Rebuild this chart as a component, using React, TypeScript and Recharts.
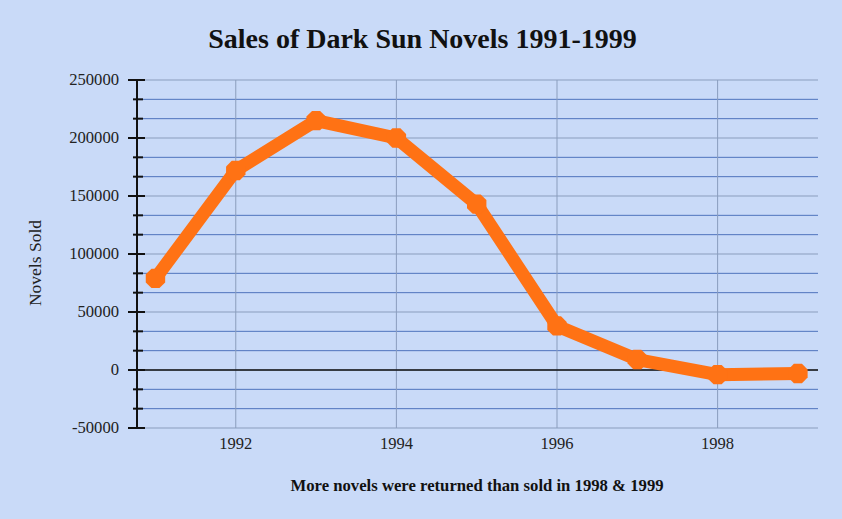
import React from "react";
import { CartesianGrid, Line, LineChart, ReferenceLine, XAxis, YAxis } from "recharts";

const years = [1991, 1992, 1993, 1994, 1995, 1996, 1997, 1998, 1999];
const novelsSold = [79000, 172000, 215000, 200000, 143000, 38000, 9000, -4000, -3000];
const yearTicks = [1992, 1994, 1996, 1998];
const majorTicks = [-50000, 0, 50000, 100000, 150000, 200000, 250000];
const minorTicks = majorTicks.slice(0, -1).flatMap((v) => [v + 50000 / 3, v + 100000 / 3]);
const allTicks = [...majorTicks, ...minorTicks].sort((a, b) => a - b);

const data = years.map((year, i) => ({ year, sold: novelsSold[i] }));

const FONT = "'Liberation Serif', 'Times New Roman', serif";

function YTick(props: any) {
  const { x, y, payload } = props;
  const major = Math.round(payload.value) % 50000 === 0;
  if (!major) {
    return <line x1={x - 4} x2={x + 6} y1={y} y2={y} stroke="#111" strokeWidth={2} />;
  }
  return (
    <g>
      <line x1={x - 9} x2={x + 8} y1={y} y2={y} stroke="#111" strokeWidth={2} />
      <text x={x - 18} y={y} dy={5} textAnchor="end" fontSize={16.6} fill="#222" fontFamily={FONT}>
        {Math.round(payload.value)}
      </text>
    </g>
  );
}

function Octagon(props: any) {
  const { cx, cy } = props;
  if (cx == null || cy == null) return null;
  const r = 10.5;
  const pts = Array.from({ length: 8 }, (_, k) => {
    const a = (Math.PI / 8) * (2 * k + 1);
    return `${cx + r * Math.cos(a)},${cy + r * Math.sin(a)}`;
  }).join(" ");
  return <polygon points={pts} fill="#ff7214" />;
}

export default function App() {
  return (
    <div
      style={{
        position: "fixed",
        left: 0,
        top: 0,
        width: 842,
        height: 519,
        background: "#c9daf8",
        fontFamily: FONT,
      }}
    >
      <div
        style={{
          position: "absolute",
          top: 23,
          left: 0,
          width: 845,
          textAlign: "center",
          fontSize: 28,
          fontWeight: "bold",
          color: "#111",
        }}
      >
        Sales of Dark Sun Novels 1991-1999
      </div>
      <div
        style={{
          position: "absolute",
          left: 35,
          top: 263,
          transform: "translate(-50%, -50%) rotate(-90deg)",
          fontSize: 17.5,
          color: "#222",
          whiteSpace: "nowrap",
        }}
      >
        Novels Sold
      </div>
      <div
        style={{
          position: "absolute",
          top: 476,
          left: 477,
          transform: "translateX(-50%)",
          fontSize: 16.7,
          fontWeight: "bold",
          color: "#111",
          whiteSpace: "nowrap",
        }}
      >
        More novels were returned than sold in 1998 &amp; 1999
      </div>
      <LineChart
        width={842}
        height={519}
        data={data}
        margin={{ top: 80, right: 24, bottom: 61, left: 0 }}
        style={{ position: "absolute", left: 0, top: 0 }}
      >
        <CartesianGrid horizontalValues={minorTicks} vertical={false} stroke="#4f74bd" strokeWidth={1} />
        <CartesianGrid
          horizontalValues={majorTicks}
          verticalValues={yearTicks}
          stroke="#8a9dbd"
          strokeWidth={1}
        />
        <XAxis
          dataKey="year"
          type="number"
          domain={[1990.77, 1999.25]}
          ticks={yearTicks}
          axisLine={false}
          tickLine={false}
          tickMargin={3}
          height={30}
          tick={{ fontSize: 16.5, fill: "#222", fontFamily: FONT }}
        />
        <YAxis
          type="number"
          domain={[-50000, 250000]}
          ticks={allTicks}
          interval={0}
          width={137}
          tickSize={0}
          tickMargin={0}
          tickLine={false}
          axisLine={{ stroke: "#111", strokeWidth: 2 }}
          tick={<YTick />}
        />
        <ReferenceLine y={0} stroke="#111" strokeWidth={1.5} />
        <Line
          type="linear"
          dataKey="sold"
          stroke="#ff7214"
          strokeWidth={13}
          strokeLinejoin="round"
          dot={<Octagon />}
          activeDot={false}
          isAnimationActive={false}
        />
      </LineChart>
    </div>
  );
}
